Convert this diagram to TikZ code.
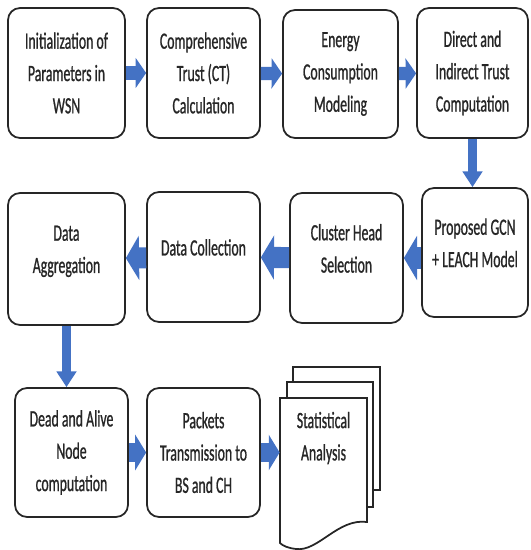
\documentclass[tikz,border=0pt]{standalone}
\usepackage{fontspec}
\setmainfont[FakeStretch=0.59, FakeBold=0.8]{Carlito}
\usetikzlibrary{arrows.meta, calc}
\definecolor{cblue}{HTML}{4472C4}
\definecolor{cline}{HTML}{262626}
\tikzset{
  every picture/.style={x=0.02cm, y=-0.02cm},
  txt/.style={font=\fontsize{13.3}{18.4}\selectfont, align=center, text=cline},
  box/.style={txt, draw=cline, fill=white, line width=1pt, rounded corners=0.24cm, minimum width=2.26cm, minimum height=2.6cm, inner sep=2pt},
  raised/.style={text depth=11pt},
  arrow/.style={draw=cblue, line width=7.5pt, -{Triangle[length=6pt, width=17pt]}},
  wide/.style={line width=12pt, -{Triangle[length=7.5pt, width=25pt]}},
  mid/.style={line width=10.5pt, -{Triangle[length=6.2pt, width=20pt]}},
  varrow/.style={draw=cblue, line width=5.5pt, -{Triangle[length=9pt, width=11pt]}},
  page/.style={draw=cline, fill=white, line width=1pt},
}
\begin{document}
\begin{tikzpicture}
  \useasboundingbox (0,0) rectangle (530,550);
  % ---------- row 1 ----------
  \node[box, minimum width=2.34cm] (init) at (66.5,73) {Initialization of\\Parameters in\\WSN};
  \node[box] (ct) at (203.5,73) {Comprehensive\\Trust (CT)\\Calculation};
  \node[box, minimum width=2.3cm, minimum height=2.56cm] (energy) at (340.5,74) {Energy\\Consumption\\Modeling};
  \node[box, minimum width=2.22cm] (trust) at (472.5,73) {Direct and\\Indirect Trust\\Computation};
  % ---------- row 2 ----------
  \node[box, raised, minimum width=2.34cm, minimum height=2.64cm] (aggr) at (66.5,259) {Data\\Aggregation};
  \node[box, raised] (collect) at (203.5,257) {Data Collection};
  \node[box, raised] (chead) at (346.5,258) {Cluster Head\\Selection};
  \node[box, raised, minimum width=2.12cm, minimum height=2.58cm] (gcn) at (475,252.5) {Proposed GCN\\+ LEACH Model};
  % ---------- row 3 ----------
  \node[box, minimum height=2.58cm] (alive) at (71.5,452.5) {Dead and Alive\\Node\\computation};
  \node[box, minimum height=2.58cm] (packets) at (203.5,452.5) {Packets\\Transmission to\\BS and CH};
  % stacked documents
  \draw[page] (293,367) rectangle (380,490);
  \draw[page] (287,382) rectangle (373,507);
  \draw[page] (280,398) -- (367,398) -- (367,522)
    .. controls (338,518) and (318,552) .. (296,549)
    .. controls (288,548) and (283,546) .. (280,543) -- cycle;
  \node[txt, minimum width=1.74cm, minimum height=1.6cm, inner sep=0pt] (stats) at (323.5,438) {Statistical\\Analysis};
  % ---------- arrows ----------
  \draw[arrow] (init) -- (ct);
  \draw[arrow] (ct) -- (energy);
  \draw[arrow] (energy) -- (trust);
  \draw[varrow] (trust.south) -- (trust.south |- gcn.north);
  \draw[arrow, wide] (gcn.west |- chead) -- (chead);
  \draw[arrow, wide] (chead) -- (collect);
  \draw[arrow, wide] (collect) -- (aggr);
  \draw[varrow] (aggr.south) -- (aggr.south |- alive.north);
  \draw[arrow, mid] (alive) -- (packets);
  \draw[arrow, mid] (packets.east) -- (packets.east -| stats.west);
\end{tikzpicture}
\end{document}
